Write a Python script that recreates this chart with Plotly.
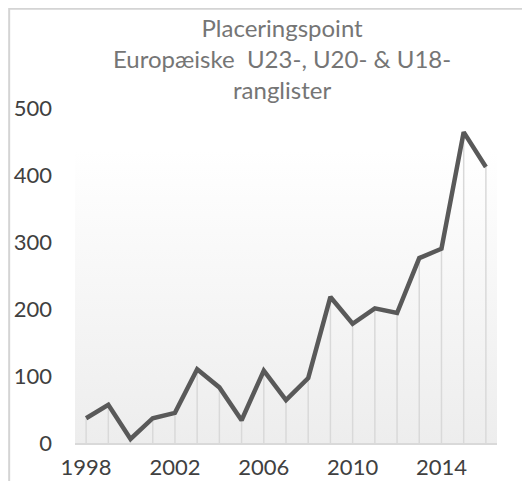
import plotly.graph_objects as go

years = list(range(1998, 2017))
points = [37, 57, 6, 37, 45, 110, 83, 34, 108, 64, 97, 218, 178, 201, 194, 276, 290, 464, 412]
x_ticks = [1998, 2002, 2006, 2010, 2014]
y_ticks = [0, 100, 200, 300, 400, 500]
title_text = "Placeringspoint<br>Europæiske  U23-, U20- & U18-<br>ranglister"

FONT = "Lato, 'Open Sans', sans-serif"
LINE = "#595959"
DROP = "#d9d9d9"

fig = go.Figure()

# soft gradient panel behind the line
x0, x1 = years[0] - 0.5, years[-1] + 0.5
top = 437
fig.add_trace(go.Scatter(
    x=[x0, x1, x1, x0, x0], y=[0, 0, top, top, 0],
    mode="lines", line=dict(width=0), fill="toself",
    fillgradient=dict(type="vertical", colorscale=[[0, "#ededed"], [1, "#ffffff"]]),
    hoverinfo="skip", showlegend=False,
))

# drop lines from each point to the axis
dx, dy = [], []
for yr, v in zip(years, points):
    dx += [yr, yr, None]
    dy += [0, v, None]
fig.add_trace(go.Scatter(x=dx, y=dy, mode="lines", line=dict(color=DROP, width=1.5),
                         hoverinfo="skip", showlegend=False))

fig.add_trace(go.Scatter(x=years, y=points, mode="lines",
                         line=dict(color=LINE, width=4.5), showlegend=False))

fig.update_layout(
    width=530, height=481,
    margin=dict(l=67, r=41, t=100, b=46),
    paper_bgcolor="white", plot_bgcolor="white",
    font=dict(family=FONT, size=22, color="#404040"),
    xaxis=dict(range=[x0, x1], tickvals=x_ticks, showgrid=False, zeroline=False,
               showline=True, linecolor=DROP, linewidth=1.5, ticks="",
               ticklabelstandoff=4, automargin=False),
    yaxis=dict(range=[0, 500], tickvals=y_ticks, showgrid=False, zeroline=False,
               showline=False, ticks="", ticklabelstandoff=22, automargin=False),
    annotations=[dict(text=title_text, xref="paper", yref="paper", x=0.49, y=1.291,
                      xanchor="center", yanchor="top", showarrow=False,
                      font=dict(family=FONT, size=24, color="#757575"))],
    shapes=[dict(type="rect", xref="paper", yref="paper",
                 x0=-0.156, x1=1.3, y0=-0.3, y1=1.296,
                 line=dict(color="#d4d4d4", width=2), fillcolor="rgba(0,0,0,0)",
                 layer="above")],
)

fig.write_html("out.html")
